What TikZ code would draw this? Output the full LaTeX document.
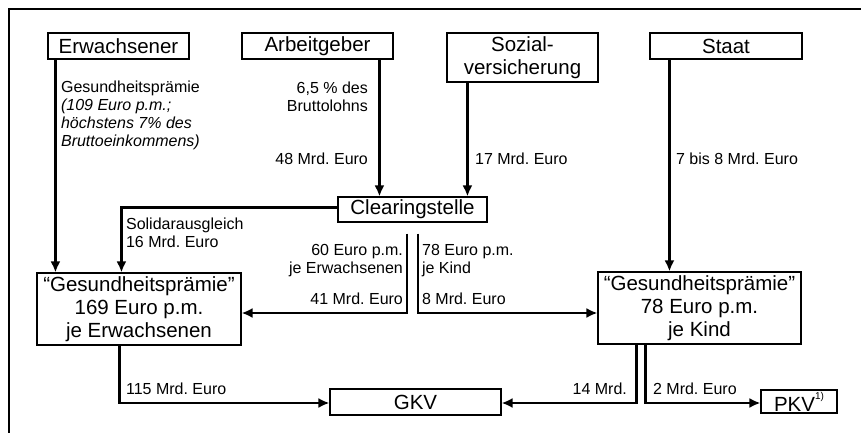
\documentclass[tikz,border=0pt]{standalone}
\usepackage{fontspec}
\setmainfont{Liberation Sans}
\frenchspacing
\usetikzlibrary{arrows.meta}

\begin{document}
\begin{tikzpicture}[x=1pt, y=-1pt, ->, >={Latex[length=11pt, width=10pt]}, line width=2.2pt]
    \tikzstyle{box}=[draw, line width=1.1pt, inner sep=0pt, align=center,
                     font=\fontsize{20.5}{23}\selectfont]
    \tikzstyle{lbl}=[inner sep=0pt, font=\fontsize{16}{18}\selectfont]

    \useasboundingbox (0,0) rectangle (861,433);
    \draw[-, line width=1.4pt] (9,433) -- (9,9) -- (861,9);

    % payers
    \node[box, minimum width=141pt, minimum height=26pt] (erw)   at (118.5,46)  {Erwachsener};
    \node[box, minimum width=151pt, minimum height=26pt] (arb)   at (317.5,46)  {Arbeitgeber};
    \node[box, minimum width=151pt, minimum height=49pt] (sozv)  at (522.5,57.5){Sozial-\\versicherung};
    \node[box, minimum width=152pt, minimum height=26pt] (staat) at (726,46)    {Staat};

    \node[box, minimum width=149pt, minimum height=25pt] (clear) at (412.5,209.5){Clearingstelle};

    \node[box, minimum width=204pt, minimum height=72pt] (gpe) at (139,309)
        {“Gesundheitsprämie”\\169 Euro p.m.\\je Erwachsenen};
    \node[box, minimum width=203pt, minimum height=72pt] (gpk) at (699.5,308)
        {“Gesundheitsprämie”\\78 Euro p.m.\\je Kind};

    \node[box, minimum width=171pt, minimum height=26pt] (gkv) at (415.5,402) {GKV};
    \node[box, minimum width=76pt,  minimum height=23pt] (pkv) at (799,401.5)
        {PKV\raisebox{1.1ex}{\fontsize{10}{10}\selectfont 1)}};

    % labels
    \node[lbl, anchor=north west, align=left] (erwl) at (60,80)
        {Gesundheitsprämie\\\textit{(109 Euro p.m.;}\\\textit{höchstens 7\% des}\\\textit{Bruttoeinkommens)}};
    \node[lbl, anchor=north east, align=right] (arbl) at (369,81) {6,5 \% des\\Bruttolohns};
    \node[lbl, anchor=north east] (arbm) at (369,152) {48 Mrd. Euro};
    \node[lbl, anchor=north west] (sozl) at (474,152) {17 Mrd. Euro};
    \node[lbl, anchor=north west] (staatl) at (675,152) {7 bis 8 Mrd. Euro};
    \node[lbl, anchor=north west, align=left] (solil) at (125,217) {Solidarausgleich\\16 Mrd. Euro};
    \node[lbl, anchor=north east, align=right] (el) at (404,243) {60 Euro p.m.\\je Erwachsenen};
    \node[lbl, anchor=north east] (em) at (404,292) {41 Mrd. Euro};
    \node[lbl, anchor=north west, align=left] (kl) at (421,243) {78 Euro p.m.\\je Kind};
    \node[lbl, anchor=north west] (km) at (421,292) {8 Mrd. Euro};
    \node[lbl, anchor=north west] (gkvl) at (125,382) {115 Mrd. Euro};
    \node[lbl, anchor=north east] (gkvr) at (628,382) {14 Mrd.};
    \node[lbl, anchor=north west] (pkvl) at (652,382) {2 Mrd. Euro};

    % flows
    \draw ([xshift=8pt]erw.south west) -- ([xshift=8pt]erw.south west |- gpe.north);
    \draw ([xshift=138pt]arb.south west) -- ([xshift=138pt]arb.south west |- clear.north);
    \draw ([xshift=21pt]sozv.south west) -- ([xshift=21pt]sozv.south west |- clear.north);
    \draw ([xshift=20pt]staat.south west) -- ([xshift=20pt]staat.south west |- gpk.north);

    \draw ([yshift=2pt]clear.west) -| ([xshift=85pt]gpe.north west);
    \coordinate (cl) at ([xshift=-5.5pt, yshift=-11pt]clear.south);
    \coordinate (cr) at ([xshift=5.5pt, yshift=-11pt]clear.south);
    \draw (cl) |- ([yshift=-4pt]gpe.east);
    \draw (cr) |- ([yshift=-5pt]gpk.west);

    \draw ([xshift=83pt]gpe.south west) |- ([yshift=-1pt]gkv.west);
    \draw ([xshift=39pt]gpk.south west) |- ([yshift=-1pt]gkv.east);
    \draw ([xshift=48pt]gpk.south west) |- ([yshift=-1.5pt]pkv.west);
\end{tikzpicture}
\end{document}
